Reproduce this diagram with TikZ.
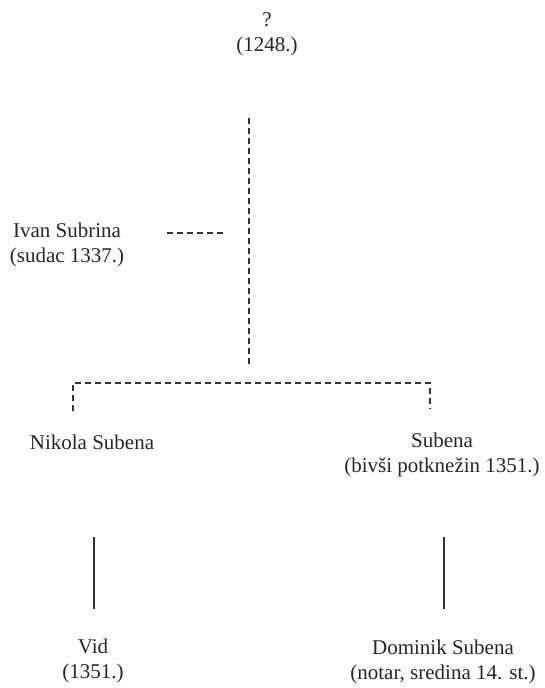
\documentclass[tikz,border=0pt]{standalone}
\usepackage{fontspec}
\setmainfont{Liberation Serif}
\begin{document}
\begin{tikzpicture}[x=1pt,y=-1pt,
  person/.style={align=center,inner sep=0pt,font=\fontsize{21}{25}\selectfont,text=black!85},
  dline/.style={line width=1.1pt,dash pattern=on 6pt off 4pt,draw=black!80},
  sline/.style={line width=1.1pt,draw=black!80}]
\useasboundingbox (0,0) rectangle (545,688);
\node[person] (top) at (267,34) {?\\(1248.)};
\node[person] (ivan) at (67,245) {Ivan Subrina\\(sudac 1337.)};
\node[person] (nikola) at (92,442) {Nikola Subena};
\node[person] (subena) at (442,455) {Subena\\(bivši potknežin 1351.)};
\node[person] (vid) at (93,661) {Vid\\(1351.)};
\node[person] (dominik) at (443,662) {Dominik Subena\\(notar, sredina 14. st.)};
\coordinate (vtop) at (249,118);
\coordinate (vbot) at (249,364);
\coordinate (ivanA) at (167,233);
\coordinate (ivanB) at (226,233);
\coordinate (brL) at (73,383);
\coordinate (brR) at (430,383);
\coordinate (brLd) at (73,411);
\coordinate (brRd) at (430,409);
\coordinate (vidA) at (94,537);
\coordinate (vidB) at (94,609);
\coordinate (domA) at (444,537);
\coordinate (domB) at (444,609);
\draw[dline] (vtop) -- (vbot);
\draw[dline] (ivanA) -- (ivanB);
\draw[dline] (brLd) -- (brL) -- (brR) -- (brRd);
\draw[sline] (vidA) -- (vidB);
\draw[sline] (domA) -- (domB);
\end{tikzpicture}
\end{document}
